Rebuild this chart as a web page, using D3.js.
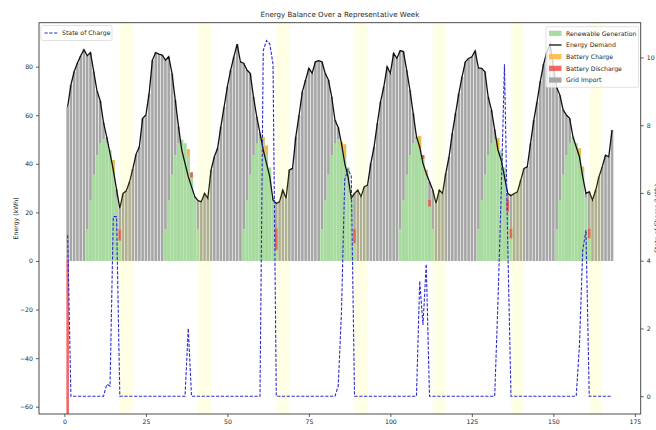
<!DOCTYPE html>
<html><head><meta charset="utf-8">
<script src="https://cdn.jsdelivr.net/npm/d3@7"></script>
<style>body{margin:0;background:#fff;} svg{display:block;font-family:"DejaVu Sans",sans-serif;}</style>
</head><body><svg id="c" width="656" height="430"></svg>
<script>
// ---------------- data ----------------
const hours = d3.range(1, 169);
const demand = [
 63.5,72.5,78,81.5,84.5,87,84.5,85.8,78,70,66,57,51,44.3,37.5,29.5,21.7,27.8,28.9,32.6,38,44,47,58.7,
 60.1,69,82.7,85.8,85.2,84.8,82.7,84.1,77.3,66.3,55.3,45.7,40.2,34.7,30.6,26.5,24.8,24.4,27.8,25.8,37.5,42.9,46.4,55.3,
 63.5,71.8,78.6,84.1,89.3,82,81.4,78.6,77.3,67.6,59.4,52.6,45.7,40.2,34.7,25.1,23.7,24.4,29.2,25.8,37.5,38.1,51.2,60.1,
 69.7,74.5,79.3,77.3,82,82.5,82,77.3,74.5,67.6,58,55,48.4,40.2,34.7,25.8,27.8,29.2,26.5,30.6,31.3,40.2,47,56.7,
 65.6,71.8,80,77.3,85.5,83.4,86.6,86.2,78.6,70.4,60.8,51.2,47,40.2,36.1,32.6,29.2,23.7,29.2,27.8,36.1,42.9,52.6,60.8,
 69,75.9,82,83.4,84.1,86.5,79.5,79.3,77.9,67.6,62.2,54,45.7,41.6,34.7,27.8,26.9,27.8,28.5,33.3,38.1,38.8,48.4,58,
 65.6,74,81,86,89,80,71.5,68.3,62.2,60.1,58.7,51.2,47,42.9,34.7,27.8,28.5,25.1,29.2,34.7,38.8,43.6,42.9,53.9
];
const renewable = [
 0,0,0,0,0,0,13,25,35.5,43.5,48.3,50,48.5,45.7,41.6,26,13,0,0,0,0,0,0,0,
 0,0,0,0,0,0,13,25,35.5,43.5,48.3,50,48.5,46,36.5,26,13.2,0,0,0,0,0,0,0,
 0,0,0,0,0,0,13,25,35.5,43.5,48.3,50,51,47.5,38.5,26,13.5,0,0,0,0,0,0,0,
 0,0,0,0,0,0,13,25,35.5,43.5,48.3,50,49,48,38.5,26,13.3,0,0,0,0,0,0,0,
 0,0,0,0,0,0,13,25,35.5,43.5,48.3,50,51.5,43.6,37.5,25.1,13.2,0,0,0,0,0,0,0,
 0,0,0,0,0,0,13,25,35.5,43.5,48.3,50,50.5,45.5,38.5,25.1,13.4,0,0,0,0,0,0,0,
 0,0,0,0,0,0,13,25,35.5,43.5,48.3,50,48.5,46.4,38.8,26,13.4,0,0,0,0,0,0,0
];
const batteryCharge = [
 0,0,0,0,0,0,0,0,0,0,0,0,0,0,4.8,0,0,0,0,0,0,0,0,0,
 0,0,0,0,0,0,0,0,0,0,0,0,0,3,0,0,0,0,0,0,0,0,0,0,
 0,0,0,0,0,0,0,0,0,0,0,0,7.5,3.5,0,0,0,0,0,0,0,0,0,0,
 0,0,0,0,0,0,0,0,0,0,0,0,2,5,0,0,0,0,0,0,0,0,0,0,
 0,0,0,0,0,0,0,0,0,0,0,0,5,0,2.1,0,0,0,0,0,0,0,0,0,
 0,0,0,0,0,0,0,0,0,0,0,0,4.5,0,0,0,0,0,0,0,0,0,0,0,
 0,0,0,0,0,0,0,0,0,0,0,0,0,2.8,2,0,0,0,0,0,0,0,0,0
];
const batteryDischarge = [
 63.5,0,0,0,0,0,0,0,0,0,0,0,0,0,0,0,4.6,0,0,0,0,0,0,0,
 0,0,0,0,0,0,0,0,0,0,0,0,0,0,2.1,0,0,0,0,0,0,0,0,0,
 0,0,0,0,0,0,0,0,0,0,0,0,0,0,0,0,9,0,0,0,0,0,0,0,
 0,0,0,0,0,0,0,0,0,0,0,0,0,0,0,0,6,0,0,0,0,0,0,0,
 0,0,0,0,0,0,0,0,0,0,0,0,0,1.6,0,2.7,0,0,0,0,0,0,0,0,
 0,0,0,0,0,0,0,0,0,0,0,0,0,0,0,4.8,4.1,0,0,0,0,0,0,0,
 0,0,0,0,0,0,0,0,0,0,0,0,0,0,0,0,4.1,0,0,0,0,0,0,0
];
const stateOfCharge = [
 4.75,0,0,0,0,0,0,0,0,0,0,0,0.35,0.3,5.3,5.3,0,0,0,0,0,0,0,0,
 0,0,0,0,0,0,0,0,0,0,0,0,0,2.0,0,0,0,0,0,0,0,0,0,0,
 0,0,0,0,0,0,0,0,0,0,0,0,10.2,10.5,10.4,9.8,0,0,0,0,0,0,0,0,
 0,0,0,0,0,0,0,0,0,0,0,0.3,2.5,6.4,6.7,6.5,0,0,0,0,0,0,0,0,
 0,0,0,0,0,0,0,0,0,0,0,0,3.4,2.1,3.9,0,0,0,0,0,0,0,0,0,
 0,0,0,0,0,0,0,0,0,0,0,0,2.8,6.0,9.8,4.5,0,0,0,0,0,0,0,0,
 0,0,0,0,0,0,0,0,0,0,0,0,0,1.5,4.3,4.9,0,0,0,0,0,0,0,0
];
const eveningBands = [[17,21],[41,45],[65,69],[89,93],[113,117],[137,141],[161,165]];
const xTicks = [0,25,50,75,100,125,150,175];
const yTicks = [-60,-40,-20,0,20,40,60,80];
const socTicks = [0,2,4,6,8,10];
const titleText = "Energy Balance Over a Representative Week";
const yLabelText = "Energy (kWh)";
const y2LabelText = "State of Charge (kWh)";
const legendRight = ["Renewable Generation","Energy Demand","Battery Charge","Battery Discharge","Grid Import"];
const legendLeft = ["State of Charge"];

// ---------------- layout ----------------
const L = 39, R = 640.7, T = 22.7, B = 414;
const svg = d3.select("#c");
const x = d3.scaleLinear().domain([-7.79, 176.79]).range([L, R]);
const y = d3.scaleLinear().domain([-63, 98.1]).range([B, T]);
const y2 = d3.scaleLinear().domain([-0.525, 11.025]).range([B, T]);
const bw = x(0.8) - x(0);
const gw = x(1.0) - x(0);

const C = {green:"#a9dba1", gray:"#a6a6a6", orange:"#ffb437", red:"#ee4444", band:"#ffff00", soc:"#2b2bcf", txt:"#262626", spine:"#3a3a3a"};

svg.append("defs").append("clipPath").attr("id","plot").append("rect")
  .attr("x",L).attr("y",T).attr("width",R-L).attr("height",B-T);
const g = svg.append("g").attr("clip-path","url(#plot)");

const idx = d3.range(hours.length);
// renewable
g.selectAll(".ren").data(idx.filter(i=>renewable[i]>0)).join("rect")
  .attr("x",i=>x(hours[i])-gw/2).attr("width",gw)
  .attr("y",i=>y(renewable[i])).attr("height",i=>y(0)-y(renewable[i]))
  .attr("fill",C.green);
// grid import (stacked on renewable up to demand)
g.selectAll(".grid").data(idx.filter(i=>demand[i]>renewable[i])).join("rect")
  .attr("x",i=>x(hours[i])-bw/2).attr("width",bw)
  .attr("y",i=>y(demand[i])).attr("height",i=>y(renewable[i])-y(demand[i]))
  .attr("fill",C.gray);
// battery charge
g.selectAll(".chg").data(idx.filter(i=>batteryCharge[i]>0)).join("rect")
  .attr("x",i=>x(hours[i])-bw/2).attr("width",bw)
  .attr("y",i=>y(renewable[i])).attr("height",i=>y(renewable[i]-batteryCharge[i])-y(renewable[i]))
  .attr("fill",C.orange).attr("opacity",0.85);
// battery discharge
g.selectAll(".dis").data(idx.filter(i=>batteryDischarge[i]>0)).join("rect")
  .attr("x",i=>x(hours[i])-bw/2).attr("width",bw)
  .attr("y",i=>y(renewable[i])).attr("height",i=>y(renewable[i]-batteryDischarge[i])-y(renewable[i]))
  .attr("fill",C.red).attr("opacity",0.8);
// demand line
g.append("path").datum(idx)
  .attr("d",d3.line().x(i=>x(hours[i])).y(i=>y(demand[i])))
  .attr("fill","none").attr("stroke","#111").attr("stroke-width",1.3);
// evening bands
g.selectAll(".band").data(eveningBands).join("rect")
  .attr("x",d=>x(d[0])).attr("width",d=>x(d[1])-x(d[0]))
  .attr("y",T).attr("height",B-T).attr("fill",C.band).attr("opacity",0.1);
// SOC
g.append("path").datum(idx)
  .attr("d",d3.line().x(i=>x(hours[i])).y(i=>y2(stateOfCharge[i])))
  .attr("fill","none").attr("stroke",C.soc).attr("stroke-width",1.1)
  .attr("stroke-dasharray","3.2,1.6");

// ---------------- axes ----------------
function styleAxis(sel){
  sel.select(".domain").remove();
  sel.selectAll(".tick line").attr("stroke",C.spine).attr("stroke-width",0.8);
  sel.selectAll(".tick text").attr("fill",C.txt).style("font-size","6.2px").style("font-family","DejaVu Sans");
}
const fmt = d=>d<0?"\u2212"+Math.abs(d):String(d);
svg.append("g").attr("transform",`translate(0,${B})`)
  .call(d3.axisBottom(x).tickValues(xTicks).tickFormat(fmt).tickSize(3).tickPadding(3)).call(styleAxis);
svg.append("g").attr("transform",`translate(${L},0)`)
  .call(d3.axisLeft(y).tickValues(yTicks).tickFormat(fmt).tickSize(3).tickPadding(3)).call(styleAxis);
svg.append("g").attr("transform",`translate(${R},0)`)
  .call(d3.axisRight(y2).tickValues(socTicks).tickFormat(fmt).tickSize(3).tickPadding(3)).call(styleAxis);
svg.append("rect").attr("x",L).attr("y",T).attr("width",R-L).attr("height",B-T)
  .attr("fill","none").attr("stroke",C.spine).attr("stroke-width",0.9);

svg.append("text").attr("x",(L+R)/2).attr("y",17).attr("text-anchor","middle")
  .attr("fill",C.txt).style("font-size","7.1px").text(titleText);
svg.append("text").attr("transform",`translate(17.5,${(T+B)/2}) rotate(-90)`).attr("text-anchor","middle")
  .attr("fill",C.txt).style("font-size","6.2px").text(yLabelText);
svg.append("text").attr("transform",`translate(659,${(T+B)/2}) rotate(-90)`).attr("text-anchor","middle")
  .attr("fill",C.txt).style("font-size","6.2px").text(y2LabelText);

// ---------------- legends ----------------
const lg1 = svg.append("g");
lg1.append("rect").attr("x",41).attr("y",25.5).attr("width",71).attr("height",15).attr("rx",1.5)
  .attr("fill","#fff").attr("fill-opacity",0.8).attr("stroke","#d6d6d6").attr("stroke-width",0.7);
lg1.append("line").attr("x1",44.5).attr("x2",58).attr("y1",33).attr("y2",33)
  .attr("stroke",C.soc).attr("stroke-width",1.1).attr("stroke-dasharray","3.2,1.6");
lg1.append("text").attr("x",62).attr("y",35.2).attr("fill",C.txt).style("font-size","6.2px").text(legendLeft[0]);

const lg2 = svg.append("g");
lg2.append("rect").attr("x",546).attr("y",26.7).attr("width",92.5).attr("height",60.6).attr("rx",1.5)
  .attr("fill","#fff").attr("fill-opacity",0.8).attr("stroke","#d6d6d6").attr("stroke-width",0.7);
const rowY = d3.scaleLinear().domain([0,4]).range([33.3,80]);
const sw = [{t:"patch",c:C.green,o:1},{t:"line",c:"#111"},{t:"patch",c:C.orange,o:0.85},{t:"patch",c:C.red,o:0.8},{t:"patch",c:C.gray,o:1}];
legendRight.forEach((name,k)=>{
  const yy = rowY(k);
  if(sw[k].t==="patch"){
    lg2.append("rect").attr("x",549).attr("y",yy-2.6).attr("width",12.5).attr("height",5.2)
      .attr("fill",sw[k].c).attr("opacity",sw[k].o);
  } else {
    lg2.append("line").attr("x1",549).attr("x2",561.5).attr("y1",yy).attr("y2",yy)
      .attr("stroke",sw[k].c).attr("stroke-width",1.3);
  }
  lg2.append("text").attr("x",566).attr("y",yy+2.2).attr("fill",C.txt).style("font-size","6.2px").text(name);
});
</script></body></html>
